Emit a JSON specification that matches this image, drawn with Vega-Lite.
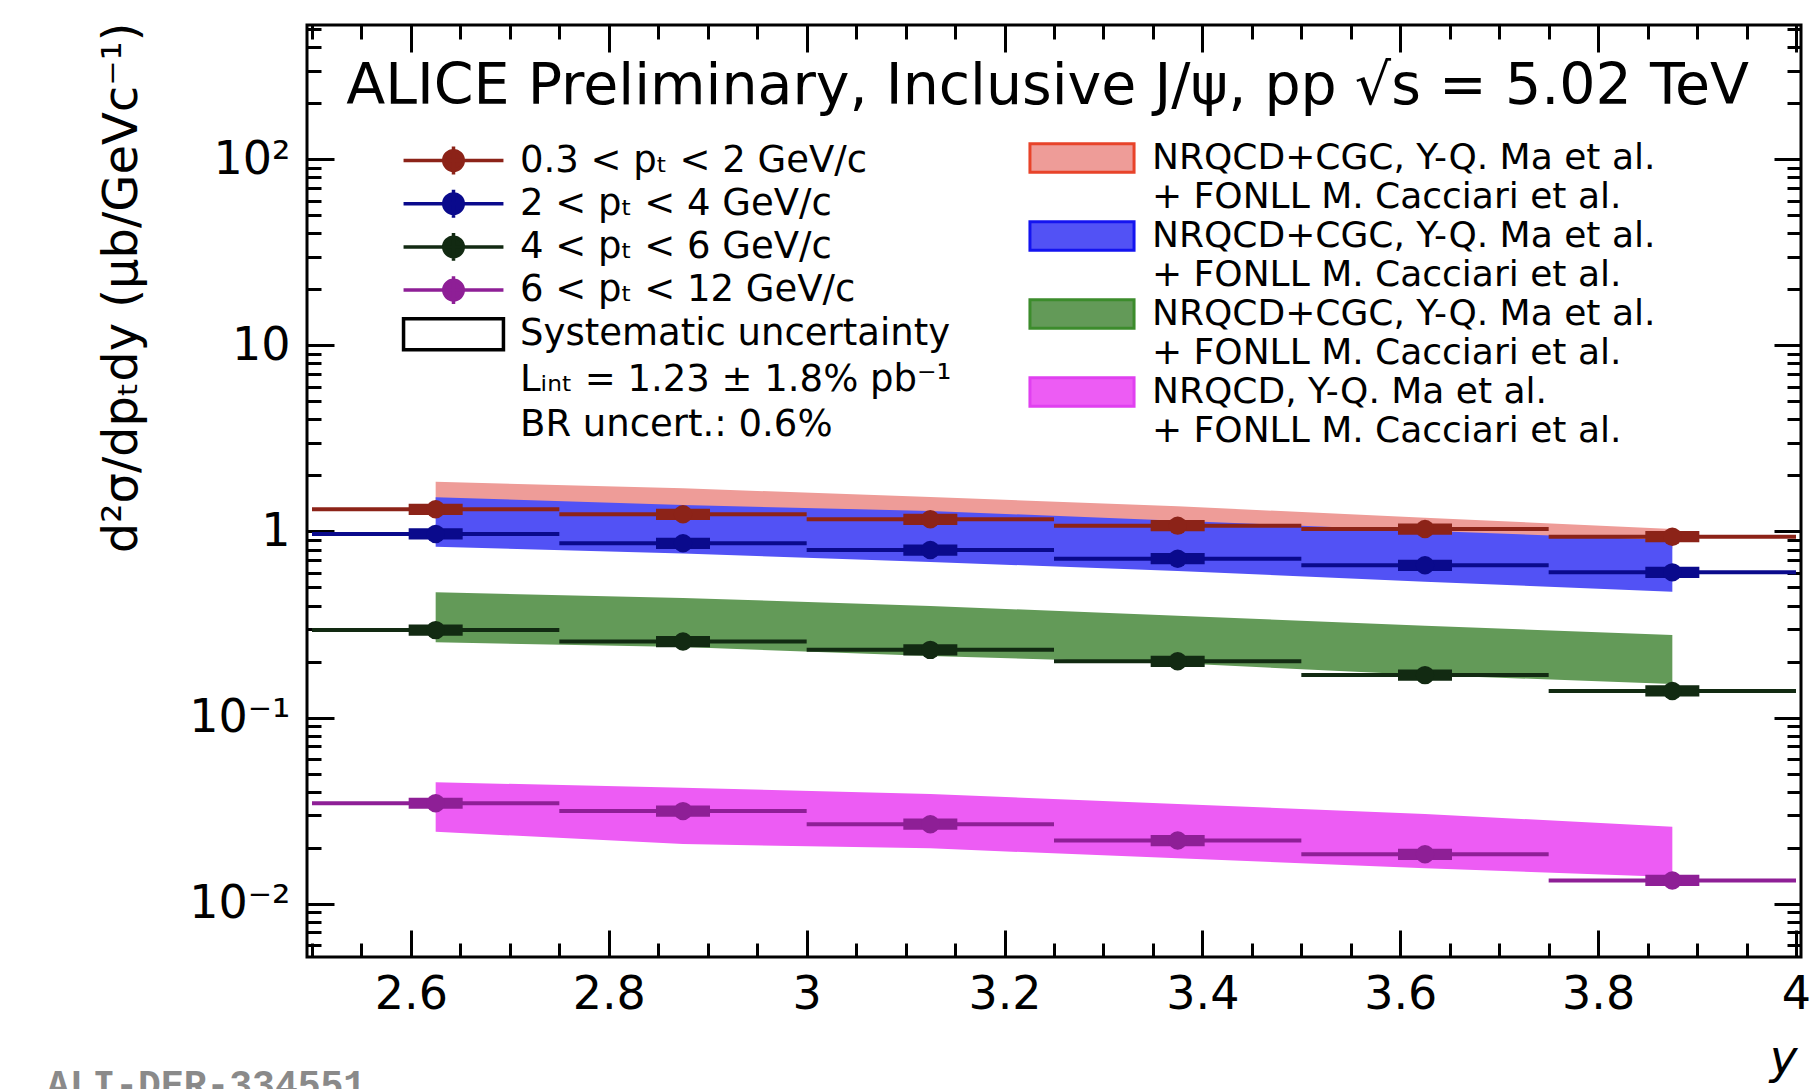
{
  "$schema": "https://vega.github.io/schema/vega-lite/v6.json",
  "width": 1494,
  "height": 932,
  "autosize": {"type": "none"},
  "padding": {"left": 307, "top": 25, "right": 15, "bottom": 132},
  "background": "#ffffff",
  "datasets": {
    "points": [
      {"series": "0.3 < pₜ < 2 GeV/c", "rap": 2.625, "rapLo": 2.5, "rapHi": 2.75, "xs": 1.316, "sysLo": 1.2276, "sysHi": 1.4108},
      {"series": "0.3 < pₜ < 2 GeV/c", "rap": 2.875, "rapLo": 2.75, "rapHi": 3.0, "xs": 1.237, "sysLo": 1.1539, "sysHi": 1.3261},
      {"series": "0.3 < pₜ < 2 GeV/c", "rap": 3.125, "rapLo": 3.0, "rapHi": 3.25, "xs": 1.163, "sysLo": 1.0849, "sysHi": 1.2467},
      {"series": "0.3 < pₜ < 2 GeV/c", "rap": 3.375, "rapLo": 3.25, "rapHi": 3.5, "xs": 1.075, "sysLo": 1.0028, "sysHi": 1.1524},
      {"series": "0.3 < pₜ < 2 GeV/c", "rap": 3.625, "rapLo": 3.5, "rapHi": 3.75, "xs": 1.031, "sysLo": 0.9617, "sysHi": 1.1052},
      {"series": "0.3 < pₜ < 2 GeV/c", "rap": 3.875, "rapLo": 3.75, "rapHi": 4.0, "xs": 0.938, "sysLo": 0.875, "sysHi": 1.0055},
      {"series": "2 < pₜ < 4 GeV/c", "rap": 2.625, "rapLo": 2.5, "rapHi": 2.75, "xs": 0.97, "sysLo": 0.9048, "sysHi": 1.0398},
      {"series": "2 < pₜ < 4 GeV/c", "rap": 2.875, "rapLo": 2.75, "rapHi": 3.0, "xs": 0.864, "sysLo": 0.806, "sysHi": 0.9262},
      {"series": "2 < pₜ < 4 GeV/c", "rap": 3.125, "rapLo": 3.0, "rapHi": 3.25, "xs": 0.795, "sysLo": 0.7416, "sysHi": 0.8522},
      {"series": "2 < pₜ < 4 GeV/c", "rap": 3.375, "rapLo": 3.25, "rapHi": 3.5, "xs": 0.714, "sysLo": 0.666, "sysHi": 0.7654},
      {"series": "2 < pₜ < 4 GeV/c", "rap": 3.625, "rapLo": 3.5, "rapHi": 3.75, "xs": 0.658, "sysLo": 0.6138, "sysHi": 0.7054},
      {"series": "2 < pₜ < 4 GeV/c", "rap": 3.875, "rapLo": 3.75, "rapHi": 4.0, "xs": 0.603, "sysLo": 0.5625, "sysHi": 0.6464},
      {"series": "4 < pₜ < 6 GeV/c", "rap": 2.625, "rapLo": 2.5, "rapHi": 2.75, "xs": 0.295, "sysLo": 0.2752, "sysHi": 0.3162},
      {"series": "4 < pₜ < 6 GeV/c", "rap": 2.875, "rapLo": 2.75, "rapHi": 3.0, "xs": 0.256, "sysLo": 0.2388, "sysHi": 0.2744},
      {"series": "4 < pₜ < 6 GeV/c", "rap": 3.125, "rapLo": 3.0, "rapHi": 3.25, "xs": 0.231, "sysLo": 0.2155, "sysHi": 0.2476},
      {"series": "4 < pₜ < 6 GeV/c", "rap": 3.375, "rapLo": 3.25, "rapHi": 3.5, "xs": 0.2005, "sysLo": 0.187, "sysHi": 0.2149},
      {"series": "4 < pₜ < 6 GeV/c", "rap": 3.625, "rapLo": 3.5, "rapHi": 3.75, "xs": 0.169, "sysLo": 0.1576, "sysHi": 0.1812},
      {"series": "4 < pₜ < 6 GeV/c", "rap": 3.875, "rapLo": 3.75, "rapHi": 4.0, "xs": 0.139, "sysLo": 0.1297, "sysHi": 0.149},
      {"series": "6 < pₜ < 12 GeV/c", "rap": 2.625, "rapLo": 2.5, "rapHi": 2.75, "xs": 0.0346, "sysLo": 0.03228, "sysHi": 0.03709},
      {"series": "6 < pₜ < 12 GeV/c", "rap": 2.875, "rapLo": 2.75, "rapHi": 3.0, "xs": 0.0314, "sysLo": 0.02929, "sysHi": 0.03366},
      {"series": "6 < pₜ < 12 GeV/c", "rap": 3.125, "rapLo": 3.0, "rapHi": 3.25, "xs": 0.0267, "sysLo": 0.02491, "sysHi": 0.02862},
      {"series": "6 < pₜ < 12 GeV/c", "rap": 3.375, "rapLo": 3.25, "rapHi": 3.5, "xs": 0.0218, "sysLo": 0.02034, "sysHi": 0.02337},
      {"series": "6 < pₜ < 12 GeV/c", "rap": 3.625, "rapLo": 3.5, "rapHi": 3.75, "xs": 0.0184, "sysLo": 0.01716, "sysHi": 0.01972},
      {"series": "6 < pₜ < 12 GeV/c", "rap": 3.875, "rapLo": 3.75, "rapHi": 4.0, "xs": 0.0133, "sysLo": 0.01241, "sysHi": 0.01426}
    ],
    "bands": [
      {"model": "NRQCD+CGC, 0.3 < pₜ < 2", "rap": 2.625, "lo": 1.37, "hi": 1.852},
      {"model": "NRQCD+CGC, 0.3 < pₜ < 2", "rap": 2.875, "lo": 1.25, "hi": 1.707},
      {"model": "NRQCD+CGC, 0.3 < pₜ < 2", "rap": 3.125, "lo": 1.16, "hi": 1.533},
      {"model": "NRQCD+CGC, 0.3 < pₜ < 2", "rap": 3.375, "lo": 1.03, "hi": 1.366},
      {"model": "NRQCD+CGC, 0.3 < pₜ < 2", "rap": 3.625, "lo": 0.91, "hi": 1.186},
      {"model": "NRQCD+CGC, 0.3 < pₜ < 2", "rap": 3.875, "lo": 0.81, "hi": 1.031},
      {"model": "NRQCD+CGC, 2 < pₜ < 4", "rap": 2.625, "lo": 0.829, "hi": 1.527},
      {"model": "NRQCD+CGC, 2 < pₜ < 4", "rap": 2.875, "lo": 0.762, "hi": 1.388},
      {"model": "NRQCD+CGC, 2 < pₜ < 4", "rap": 3.125, "lo": 0.686, "hi": 1.289},
      {"model": "NRQCD+CGC, 2 < pₜ < 4", "rap": 3.375, "lo": 0.613, "hi": 1.143},
      {"model": "NRQCD+CGC, 2 < pₜ < 4", "rap": 3.625, "lo": 0.537, "hi": 1.01},
      {"model": "NRQCD+CGC, 2 < pₜ < 4", "rap": 3.875, "lo": 0.475, "hi": 0.9},
      {"model": "NRQCD+CGC, 4 < pₜ < 6", "rap": 2.625, "lo": 0.2536, "hi": 0.471},
      {"model": "NRQCD+CGC, 4 < pₜ < 6", "rap": 2.875, "lo": 0.2393, "hi": 0.439},
      {"model": "NRQCD+CGC, 4 < pₜ < 6", "rap": 3.125, "lo": 0.214, "hi": 0.398},
      {"model": "NRQCD+CGC, 4 < pₜ < 6", "rap": 3.375, "lo": 0.1956, "hi": 0.3526},
      {"model": "NRQCD+CGC, 4 < pₜ < 6", "rap": 3.625, "lo": 0.1692, "hi": 0.3114},
      {"model": "NRQCD+CGC, 4 < pₜ < 6", "rap": 3.875, "lo": 0.1514, "hi": 0.2777},
      {"model": "NRQCD, 6 < pₜ < 12", "rap": 2.625, "lo": 0.0243, "hi": 0.0449},
      {"model": "NRQCD, 6 < pₜ < 12", "rap": 2.875, "lo": 0.0209, "hi": 0.0419},
      {"model": "NRQCD, 6 < pₜ < 12", "rap": 3.125, "lo": 0.0198, "hi": 0.0388},
      {"model": "NRQCD, 6 < pₜ < 12", "rap": 3.375, "lo": 0.0175, "hi": 0.0343},
      {"model": "NRQCD, 6 < pₜ < 12", "rap": 3.625, "lo": 0.0155, "hi": 0.0303},
      {"model": "NRQCD, 6 < pₜ < 12", "rap": 3.875, "lo": 0.0139, "hi": 0.0259}
    ]
  },
  "resolve": {"axis": {"x": "independent", "y": "independent"}},
  "layer": [
    {
      "data": {"name": "bands"},
      "mark": {"type": "area", "strokeWidth": 0, "opacity": 1},
      "encoding": {
        "x": {"field": "rap", "type": "quantitative",
          "scale": {"domain": [2.5, 4], "nice": false, "zero": false},
          "axis": {"orient": "bottom",
            "values": [2.5, 2.55, 2.6, 2.65, 2.7, 2.75, 2.8, 2.85, 2.9, 2.95, 3, 3.05, 3.1, 3.15, 3.2, 3.25, 3.3, 3.35, 3.4, 3.45, 3.5, 3.55, 3.6, 3.65, 3.7, 3.75, 3.8, 3.85, 3.9, 3.95, 4],
            "tickSize": {"condition": {"test": "abs(round(datum.value*20))%4==0", "value": -27}, "value": -14},
            "labelExpr": "abs(round(datum.value*20))%4==0 ? format(datum.value, '~g') : ''",
            "labelBaseline": "alphabetic", "labelPadding": 78,
            "title": "y", "titleFontStyle": "italic", "titleFontSize": 47,
            "titleX": 1490, "titleY": 115, "titleAlign": "right", "titleBaseline": "alphabetic", "titleAnchor": "end"}},
        "y": {"field": "hi", "type": "quantitative",
          "scale": {"type": "log", "domain": [0.00516, 528], "nice": false},
          "axis": {"orient": "left",
            "values": [0.006, 0.007, 0.008, 0.009, 0.01, 0.02, 0.03, 0.04, 0.05, 0.06, 0.07, 0.08, 0.09, 0.1, 0.2, 0.3, 0.4, 0.5, 0.6, 0.7, 0.8, 0.9, 1, 2, 3, 4, 5, 6, 7, 8, 9, 10, 20, 30, 40, 50, 60, 70, 80, 90, 100, 200, 300, 400, 500],
            "tickSize": {"condition": {"test": "indexof([0.01,0.1,1,10,100], datum.value) >= 0", "value": -27}, "value": -14},
            "labelExpr": "datum.value == 100 ? '10²' : datum.value == 10 ? '10' : datum.value == 1 ? '1' : datum.value == 0.1 ? '10⁻¹' : datum.value == 0.01 ? '10⁻²' : ''",
            "labelPadding": 44,
            "title": "d²σ/dpₜdy (μb/GeVc⁻¹)", "titleFontSize": 48,
            "titleX": -185, "titleY": -3, "titleAngle": -90, "titleAlign": "right", "titleBaseline": "middle", "titleAnchor": "end"}},
        "y2": {"field": "lo"},
        "fill": {"field": "model", "type": "nominal",
          "scale": {"domain": ["NRQCD+CGC, 0.3 < pₜ < 2", "FONLL 1", "NRQCD+CGC, 2 < pₜ < 4", "FONLL 2", "NRQCD+CGC, 4 < pₜ < 6", "FONLL 3", "NRQCD, 6 < pₜ < 12", "FONLL 4"],
            "range": ["#ee9c98", "transparent", "#5252f5", "transparent", "#639a58", "transparent", "#ed5cf4", "transparent"]},
          "legend": {"orient": "none", "legendX": 757, "legendY": 115, "title": null, "padding": 0,
            "symbolSize": 900, "symbolType": "M-3.47,-0.95H3.47V0.95H-3.47Z", "symbolStrokeWidth": 3,
            "labelFontSize": 36, "labelOffset": 52, "rowPadding": -3, "labelLimit": 2000, "labelColor": "#000000",
            "labelExpr": "indexof(datum.value, 'FONLL') == 0 ? '+ FONLL M. Cacciari et al.' : indexof(datum.value, 'NRQCD+CGC') == 0 ? 'NRQCD+CGC, Y-Q. Ma et al.' : 'NRQCD, Y-Q. Ma et al.'",
            "encode": {"symbols": {"update": {"strokeWidth": {"value": 3}, "opacity": {"value": 1}, "shape": {"value": "M-3.47,-0.95H3.47V0.95H-3.47Z"}}}}}},
        "stroke": {"field": "model", "type": "nominal",
          "scale": {"domain": ["NRQCD+CGC, 0.3 < pₜ < 2", "FONLL 1", "NRQCD+CGC, 2 < pₜ < 4", "FONLL 2", "NRQCD+CGC, 4 < pₜ < 6", "FONLL 3", "NRQCD, 6 < pₜ < 12", "FONLL 4"],
            "range": ["#e8432a", "transparent", "#1414f0", "transparent", "#3c8c2c", "transparent", "#e040f0", "transparent"]},
          "legend": {"orient": "none", "legendX": 757, "legendY": 115, "title": null, "padding": 0,
            "symbolSize": 900, "symbolType": "M-3.47,-0.95H3.47V0.95H-3.47Z", "symbolStrokeWidth": 3,
            "labelFontSize": 36, "labelOffset": 52, "rowPadding": -3, "labelLimit": 2000, "labelColor": "#000000",
            "labelExpr": "indexof(datum.value, 'FONLL') == 0 ? '+ FONLL M. Cacciari et al.' : indexof(datum.value, 'NRQCD+CGC') == 0 ? 'NRQCD+CGC, Y-Q. Ma et al.' : 'NRQCD, Y-Q. Ma et al.'",
            "encode": {"symbols": {"update": {"strokeWidth": {"value": 3}, "opacity": {"value": 1}, "shape": {"value": "M-3.47,-0.95H3.47V0.95H-3.47Z"}}}}}}
      }
    },
    {
      "data": {"name": "points"},
      "mark": {"type": "rule", "strokeWidth": 4},
      "encoding": {
        "x": {"field": "rapLo", "type": "quantitative", "axis": null},
        "x2": {"field": "rapHi"},
        "y": {"field": "xs", "type": "quantitative", "axis": null},
        "color": {"field": "series", "type": "nominal",
          "scale": {"domain": ["0.3 < pₜ < 2 GeV/c", "2 < pₜ < 4 GeV/c", "4 < pₜ < 6 GeV/c", "6 < pₜ < 12 GeV/c", "Systematic uncertainty", "Lᵢₙₜ = 1.23 ± 1.8% pb⁻¹", "BR uncert.: 0.6%"],
            "range": ["#8c2318", "#0a0a8c", "#122a12", "#8e1f96", "#000000", "#ffffff", "#ffffff"]},
          "legend": {"orient": "none", "legendX": 128, "legendY": 117, "title": null, "padding": 0,
            "symbolSize": 900, "symbolStrokeWidth": 3.5,
            "labelFontSize": 37, "labelOffset": 48, "rowPadding": 0.2, "labelLimit": 2000, "labelColor": "#000000",
            "encode": {"symbols": {"update": {
              "shape": {"signal": "datum.index < 4 ? 'M-3.33,0H3.33M0,-0.93V0.93M0.65,0A0.65,0.65,0,1,1,-0.65,0A0.65,0.65,0,1,1,0.65,0Z' : 'M-3.33,-1.03H3.33V1.03H-3.33Z'"},
              "fill": {"signal": "datum.index < 4 ? scale('color', datum.value) : 'transparent'"},
              "fillOpacity": {"signal": "datum.index < 4 ? 1 : 0"},
              "stroke": {"signal": "datum.index < 4 ? scale('color', datum.value) : datum.index == 4 ? '#000000' : '#ffffff'"},
              "strokeOpacity": {"value": 1},
              "strokeWidth": {"value": 3.5},
              "opacity": {"value": 1}}}}}}
      }
    },
    {
      "data": {"name": "points"},
      "mark": {"type": "bar", "width": 54, "opacity": 1},
      "encoding": {
        "x": {"field": "rap", "type": "quantitative",
          "axis": {"orient": "top",
            "values": [2.5, 2.55, 2.6, 2.65, 2.7, 2.75, 2.8, 2.85, 2.9, 2.95, 3, 3.05, 3.1, 3.15, 3.2, 3.25, 3.3, 3.35, 3.4, 3.45, 3.5, 3.55, 3.6, 3.65, 3.7, 3.75, 3.8, 3.85, 3.9, 3.95, 4],
            "tickSize": {"condition": {"test": "abs(round(datum.value*20))%4==0", "value": -27}, "value": -14},
            "labels": false, "title": null}},
        "y": {"field": "sysLo", "type": "quantitative",
          "axis": {"orient": "right",
            "values": [0.006, 0.007, 0.008, 0.009, 0.01, 0.02, 0.03, 0.04, 0.05, 0.06, 0.07, 0.08, 0.09, 0.1, 0.2, 0.3, 0.4, 0.5, 0.6, 0.7, 0.8, 0.9, 1, 2, 3, 4, 5, 6, 7, 8, 9, 10, 20, 30, 40, 50, 60, 70, 80, 90, 100, 200, 300, 400, 500],
            "tickSize": {"condition": {"test": "indexof([0.01,0.1,1,10,100], datum.value) >= 0", "value": -27}, "value": -14},
            "labels": false, "title": null}},
        "y2": {"field": "sysHi"},
        "color": {"field": "series", "type": "nominal",
          "scale": {"domain": ["0.3 < pₜ < 2 GeV/c", "2 < pₜ < 4 GeV/c", "4 < pₜ < 6 GeV/c", "6 < pₜ < 12 GeV/c", "Systematic uncertainty", "Lᵢₙₜ = 1.23 ± 1.8% pb⁻¹", "BR uncert.: 0.6%"],
            "range": ["#8c2318", "#0a0a8c", "#122a12", "#8e1f96", "#000000", "#ffffff", "#ffffff"]},
          "legend": {"orient": "none", "legendX": 128, "legendY": 117, "title": null, "padding": 0,
            "symbolSize": 900, "symbolStrokeWidth": 3.5,
            "labelFontSize": 37, "labelOffset": 48, "rowPadding": 0.2, "labelLimit": 2000, "labelColor": "#000000",
            "encode": {"symbols": {"update": {
              "shape": {"signal": "datum.index < 4 ? 'M-3.33,0H3.33M0,-0.93V0.93M0.65,0A0.65,0.65,0,1,1,-0.65,0A0.65,0.65,0,1,1,0.65,0Z' : 'M-3.33,-1.03H3.33V1.03H-3.33Z'"},
              "fill": {"signal": "datum.index < 4 ? scale('color', datum.value) : 'transparent'"},
              "fillOpacity": {"signal": "datum.index < 4 ? 1 : 0"},
              "stroke": {"signal": "datum.index < 4 ? scale('color', datum.value) : datum.index == 4 ? '#000000' : '#ffffff'"},
              "strokeOpacity": {"value": 1},
              "strokeWidth": {"value": 3.5},
              "opacity": {"value": 1}}}}}}
      }
    },
    {
      "data": {"name": "points"},
      "mark": {"type": "circle", "opacity": 1},
      "encoding": {
        "x": {"field": "rap", "type": "quantitative", "axis": null},
        "y": {"field": "xs", "type": "quantitative", "axis": null},
        "size": {"field": "series", "type": "nominal",
          "scale": {"domain": ["0.3 < pₜ < 2 GeV/c", "2 < pₜ < 4 GeV/c", "4 < pₜ < 6 GeV/c", "6 < pₜ < 12 GeV/c"], "range": [340, 340, 340, 190]},
          "legend": null},
        "color": {"field": "series", "type": "nominal",
          "scale": {"domain": ["0.3 < pₜ < 2 GeV/c", "2 < pₜ < 4 GeV/c", "4 < pₜ < 6 GeV/c", "6 < pₜ < 12 GeV/c", "Systematic uncertainty", "Lᵢₙₜ = 1.23 ± 1.8% pb⁻¹", "BR uncert.: 0.6%"],
            "range": ["#8c2318", "#0a0a8c", "#122a12", "#8e1f96", "#000000", "#ffffff", "#ffffff"]},
          "legend": {"orient": "none", "legendX": 128, "legendY": 117, "title": null, "padding": 0,
            "symbolSize": 900, "symbolStrokeWidth": 3.5,
            "labelFontSize": 37, "labelOffset": 48, "rowPadding": 0.2, "labelLimit": 2000, "labelColor": "#000000",
            "encode": {"symbols": {"update": {
              "shape": {"signal": "datum.index < 4 ? 'M-3.33,0H3.33M0,-0.93V0.93M0.65,0A0.65,0.65,0,1,1,-0.65,0A0.65,0.65,0,1,1,0.65,0Z' : 'M-3.33,-1.03H3.33V1.03H-3.33Z'"},
              "fill": {"signal": "datum.index < 4 ? scale('color', datum.value) : 'transparent'"},
              "fillOpacity": {"signal": "datum.index < 4 ? 1 : 0"},
              "stroke": {"signal": "datum.index < 4 ? scale('color', datum.value) : datum.index == 4 ? '#000000' : '#ffffff'"},
              "strokeOpacity": {"value": 1},
              "strokeWidth": {"value": 3.5},
              "opacity": {"value": 1}}}}}}
      }
    },
    {
      "data": {"values": [{"label": "ALICE Preliminary, Inclusive J/ψ, pp √s = 5.02 TeV"}]},
      "mark": {"type": "text", "fontSize": 57, "align": "left", "baseline": "alphabetic", "color": "#000000"},
      "encoding": {
        "text": {"field": "label", "type": "nominal"},
        "x": {"datum": 2.5346, "type": "quantitative", "axis": null},
        "y": {"datum": 198.8, "type": "quantitative", "axis": null}
      }
    },
    {
      "data": {"values": [{"label": "ALI-DER-334551"}]},
      "mark": {"type": "text", "font": "Liberation Mono", "fontWeight": "bold", "fontSize": 38, "align": "left", "baseline": "alphabetic", "color": "#8a8a8a"},
      "encoding": {
        "text": {"field": "label", "type": "nominal"},
        "x": {"datum": 2.232, "type": "quantitative", "axis": null},
        "y": {"datum": 0.000912, "type": "quantitative", "axis": null}
      }
    }
  ],
  "config": {
    "font": "DejaVu Sans",
    "view": {"stroke": "#000000", "strokeWidth": 3},
    "axis": {"grid": false, "domain": false, "tickColor": "#000000", "tickWidth": 3,
      "labelColor": "#000000", "labelFont": "DejaVu Sans", "labelFontSize": 46,
      "labelFlush": false, "labelOverlap": false, "labelBound": false,
      "titleColor": "#000000", "titleFont": "DejaVu Sans", "titleFontWeight": "normal"},
    "legend": {"labelFont": "DejaVu Sans"}
  }
}
